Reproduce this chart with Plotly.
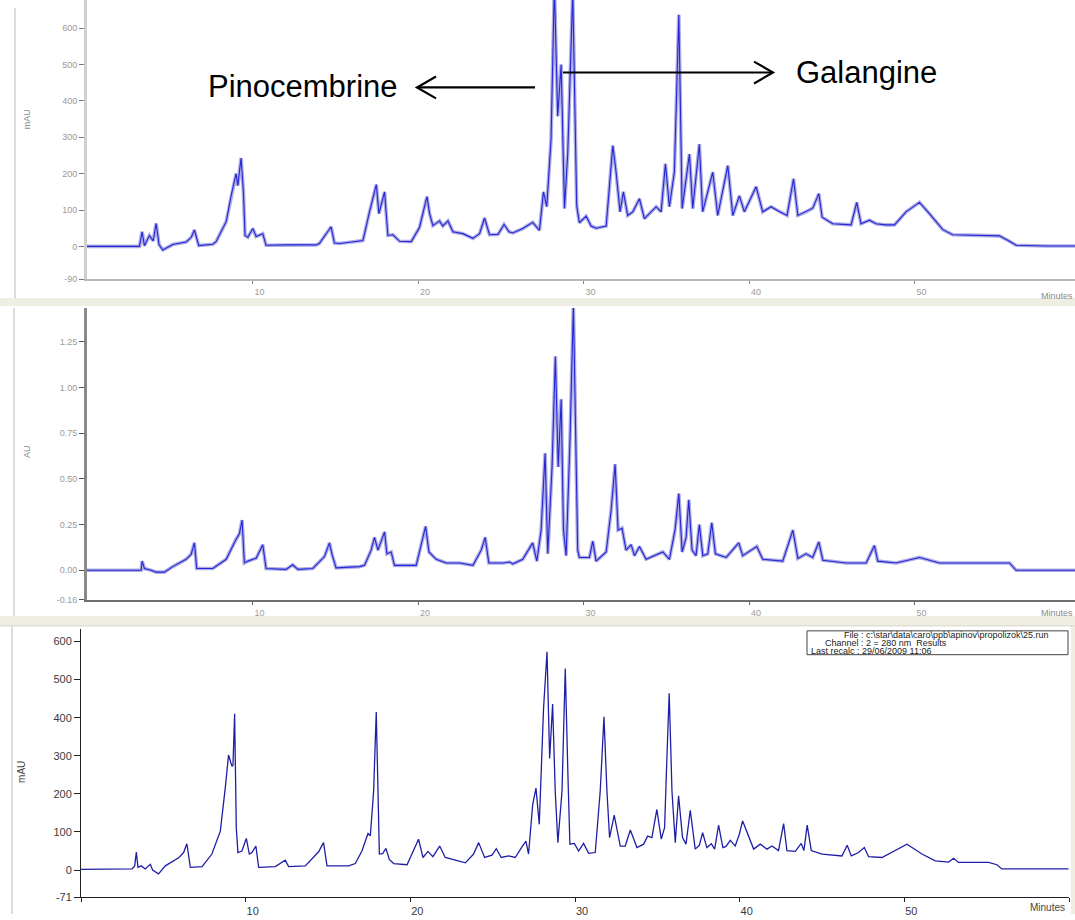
import plotly.graph_objects as go

# ---------------- data ----------------
# Panel 1 : chromatogram in mAU (upper trace)
t1 = [0, 3.17, 3.33, 3.47, 3.77, 4.0, 4.18, 4.35, 4.58, 5.18, 5.99, 6.3, 6.49, 6.75, 7.6, 7.8, 8.41, 8.71,
      9.01, 9.11, 9.31, 9.45, 9.55, 9.72, 10.02, 10.22, 10.62, 10.82, 12.0, 13.0, 13.84, 14.04, 14.55, 14.75,
      14.95, 15.26, 16.0, 16.67, 17.07, 17.48, 17.64, 17.78, 17.98, 18.18, 18.48, 18.89, 19.59, 20.09, 20.54,
      20.7, 20.9, 21.3, 21.5, 21.81, 22.11, 22.71, 23.32, 23.72, 24.02, 24.32, 24.83, 25.2, 25.5, 25.73, 26.33,
      26.93, 27.34, 27.58, 27.78, 28.04, 28.24, 28.44, 28.65, 28.85, 29.05, 29.35, 29.59, 29.75, 30.16, 30.46,
      30.76, 31.37, 31.77, 31.97, 32.21, 32.41, 32.67, 32.98, 33.38, 33.68, 34.39, 34.69, 34.95, 35.19, 35.49,
      35.76, 35.96, 36.4, 36.6, 37.0, 37.2, 37.81, 38.11, 38.72, 39.02, 39.42, 39.72, 40.43, 40.83, 41.33,
      41.84, 42.3, 42.69, 42.95, 43.45, 43.85, 44.22, 44.42, 45.06, 46.17, 46.51, 46.77, 47.28, 47.68, 48.28,
      48.79, 49.49, 50.3, 50.9, 51.71, 52.31, 53.92, 55.13, 55.74, 56.14, 57.95, 59.7]
v1 = [0, 0, 40, 2, 30, 15, 63, 5, -10, 5, 12, 25, 45, 2, 6, 13, 68, 140,
      200, 167, 243, 150, 30, 25, 49, 27, 35, 3, 4, 5, 4, 8, 40, 54,
      9, 8, 12, 16, 95, 170, 90, 117, 150, 30, 32, 14, 13, 52, 137,
      90, 57, 70, 56, 70, 40, 35, 22, 35, 78, 32, 33, 60, 40, 37, 49,
      66, 44, 150, 109, 295, 720, 358, 500, 104, 258, 700, 112, 65, 83, 56,
      50, 56, 277, 204, 95, 150, 85, 95, 131, 76, 109, 95, 227, 109, 204,
      637, 104, 254, 104, 281, 95, 204, 85, 222, 85, 139, 95, 164, 95, 109,
      95, 85, 186, 85, 95, 105, 145, 80, 62, 59, 121, 62, 72, 62, 59,
      59, 95, 121, 90, 46, 32, 31, 29, 14, 3, 1, 1]

# Panel 2 : chromatogram in AU (middle trace)
t2 = [0, 3.27, 3.33, 3.47, 3.87, 4.18, 4.68, 5.18, 5.99, 6.29, 6.49, 6.63, 7.6, 8.41, 9.01, 9.21, 9.37, 9.51,
      9.72, 10.22, 10.62, 10.82, 12.03, 12.43, 12.74, 13.64, 14.35, 14.65, 14.81, 15.05, 16.46, 16.77, 17.17,
      17.37, 17.58, 17.74, 17.98, 18.12, 18.38, 18.58, 19.89, 20.46, 20.66, 21.1, 21.7, 22.51, 23.32, 23.82,
      24.06, 24.28, 25.13, 25.53, 25.73, 26.33, 26.93, 27.18, 27.44, 27.68, 27.84, 28.1, 28.3, 28.47, 28.65,
      28.79, 28.95, 29.19, 29.39, 29.65, 29.75, 30.36, 30.56, 30.76, 31.37, 31.67, 31.91, 32.09, 32.33, 32.57,
      32.88, 33.08, 33.38, 33.78, 34.79, 35.19, 35.53, 35.76, 35.96, 36.2, 36.36, 36.56, 36.8, 37.0, 37.21,
      37.51, 37.75, 37.97, 38.62, 39.38, 39.62, 40.47, 40.83, 42.04, 42.65, 42.95, 43.45, 43.85, 44.22, 44.46,
      45.87, 47.08, 47.58, 47.78, 48.89, 50.3, 51.51, 53.92, 55.74, 56.14, 59.7]
v2 = [0, 0, 0.05, 0.01, 0.0, -0.01, -0.01, 0.02, 0.06, 0.087, 0.15, 0.01, 0.01, 0.06, 0.17, 0.2, 0.275, 0.04,
      0.05, 0.066, 0.14, 0.01, 0.005, 0.03, 0.005, 0.01, 0.075, 0.15, 0.085, 0.013, 0.02, 0.027, 0.11,
      0.18, 0.11, 0.155, 0.21, 0.09, 0.1, 0.027, 0.027, 0.24, 0.1, 0.06, 0.04, 0.04, 0.027, 0.11,
      0.18, 0.04, 0.04, 0.045, 0.035, 0.06, 0.15, 0.05, 0.22, 0.64, 0.09, 0.565, 1.17, 0.565, 0.935,
      0.22, 0.08, 0.73, 1.45, 0.11, 0.07, 0.07, 0.16, 0.05, 0.1, 0.33, 0.58, 0.22, 0.23, 0.11,
      0.14, 0.08, 0.13, 0.06, 0.1, 0.06, 0.22, 0.42, 0.1, 0.18, 0.385, 0.11, 0.08, 0.25, 0.08,
      0.09, 0.26, 0.09, 0.07, 0.15, 0.08, 0.13, 0.06, 0.05, 0.22, 0.065, 0.09, 0.07, 0.155, 0.055,
      0.04, 0.04, 0.135, 0.05, 0.04, 0.07, 0.04, 0.04, 0.04, 0.0, 0.0]

# Panel 3 : chromatogram in mAU, channel 2 = 280 nm (lower trace)
t3 = [0, 3.1, 3.26, 3.36, 3.46, 3.66, 3.9, 4.21, 4.35, 4.71, 5.12, 5.93, 6.23, 6.43, 6.64, 7.35, 7.95, 8.46,
      8.76, 8.96, 9.17, 9.23, 9.33, 9.43, 9.53, 9.77, 10.04, 10.22, 10.38, 10.62, 10.79, 11.8, 12.4, 12.61,
      13.62, 14.43, 14.73, 14.94, 16.25, 16.66, 17.06, 17.43, 17.57, 17.77, 17.93, 18.04, 18.12, 18.32, 18.52,
      18.72, 18.99, 19.8, 20.2, 20.5, 20.77, 21.07, 21.37, 21.78, 22.12, 22.63, 23.34, 23.84, 24.15, 24.51,
      24.96, 25.22, 25.52, 25.97, 26.37, 26.78, 27.02, 27.18, 27.43, 27.63, 27.83, 28.09, 28.3, 28.46, 28.64,
      28.8, 28.96, 29.21, 29.41, 29.57, 29.69, 29.96, 30.22, 30.52, 30.83, 31.23, 31.53, 31.76, 31.94, 32.1,
      32.38, 32.75, 33.05, 33.36, 33.76, 34.17, 34.41, 34.67, 34.97, 35.24, 35.44, 35.58, 35.72, 35.89, 36.09,
      36.29, 36.53, 36.74, 37.0, 37.3, 37.55, 37.75, 38.01, 38.28, 38.48, 38.72, 38.98, 39.17, 39.43, 39.73,
      39.98, 40.18, 40.44, 40.85, 41.25, 41.66, 41.96, 42.36, 42.67, 42.87, 43.38, 43.74, 43.9, 44.1, 44.35,
      45.0, 46.21, 46.53, 46.78, 47.22, 47.57, 47.83, 48.64, 49.45, 50.16, 51.07, 51.88, 52.69, 52.99, 53.29,
      55.12, 55.62, 55.92, 59.97]
v3 = [2, 3, 11, 47, 7, 11, 3, 15, 0, -10, 11, 32, 46, 69, 7, 9, 42, 102,
      215, 302, 272, 275, 410, 111, 46, 50, 83, 42, 46, 63, 7, 9, 26, 9,
      11, 48, 72, 11, 11, 17, 50, 96, 90, 206, 415, 241, 42, 43, 57,
      28, 17, 14, 50, 81, 33, 49, 35, 63, 33, 27, 19, 42, 72, 33,
      39, 56, 33, 37, 33, 61, 76, 42, 172, 215, 120, 424, 573, 293, 436,
      206, 72, 206, 529, 250, 68, 70, 50, 70, 44, 46, 206, 402, 206, 85,
      144, 63, 63, 105, 59, 68, 89, 85, 159, 81, 111, 293, 464, 206, 72,
      195, 85, 68, 157, 55, 65, 98, 59, 69, 55, 118, 59, 62, 78, 63,
      94, 129, 102, 55, 68, 55, 63, 51, 122, 51, 49, 70, 51, 118, 51,
      42, 37, 65, 37, 46, 59, 35, 33, 51, 68, 42, 24, 21, 31, 20,
      20, 14, 3, 3]

assert len(t1) == len(v1) and len(t2) == len(v2) and len(t3) == len(v3)

x_ticks = [10, 20, 30, 40, 50]
y1_ticks = [-90, 0, 100, 200, 300, 400, 500, 600]
y2_ticks = [-0.16, 0.0, 0.25, 0.50, 0.75, 1.00, 1.25]
y2_text = ["-0.16", "0.00", "0.25", "0.50", "0.75", "1.00", "1.25"]
y3_ticks = [-71, 0, 100, 200, 300, 400, 500, 600]

# ---------------- layout helpers (pixel -> paper) ----------------
W, H = 1075, 920
def X(px):
    return px / W
def Y(py):
    return 1 - py / H

fig = go.Figure()

halo = "rgba(105,105,205,0.55)"
core = "#2626d6"
for t, v, xa, ya in [(t1, v1, "x", "y"), (t2, v2, "x2", "y2")]:
    fig.add_trace(go.Scatter(x=t, y=v, xaxis=xa, yaxis=ya, mode="lines",
                             line=dict(color=halo, width=3.6), hoverinfo="skip", showlegend=False))
    fig.add_trace(go.Scatter(x=t, y=v, xaxis=xa, yaxis=ya, mode="lines",
                             line=dict(color=core, width=1.1), showlegend=False))
fig.add_trace(go.Scatter(x=t3, y=v3, xaxis="x3", yaxis="y3", mode="lines",
                         line=dict(color="#1f1fa6", width=1.3), showlegend=False))

top_font = dict(family="Liberation Sans, Arial, sans-serif", size=9, color="#9a9a9a")
bot_font = dict(family="Liberation Sans, Arial, sans-serif", size=11, color="#3a3a3a")

x_rng_top = [0, (W - 87) / 16.55]
common_x = dict(showgrid=False, zeroline=False, ticks="outside", tickvals=x_ticks,
                ticktext=[str(v) for v in x_ticks], ticklabelshift=7, fixedrange=True)

fig.update_layout(
    width=W, height=H, margin=dict(l=0, r=0, t=0, b=0),
    paper_bgcolor="white", plot_bgcolor="white",
    xaxis=dict(common_x, domain=[X(87), 1], range=x_rng_top, anchor="y",
               showline=True, linecolor="#b9b9b9", linewidth=2, ticklen=3, tickcolor="#888",
               tickfont=top_font),
    yaxis=dict(domain=[Y(281), Y(0)], range=[-90.2, 677.6], anchor="x", showgrid=False, zeroline=False,
               showline=True, linecolor="#cfcfcf", linewidth=3, ticks="outside", ticklen=5, tickcolor="#777",
               tickvals=y1_ticks, ticktext=[str(v) for v in y1_ticks], tickfont=top_font),
    xaxis2=dict(common_x, domain=[X(87), 1], range=x_rng_top, anchor="y2",
                showline=True, linecolor="#6f6f6f", linewidth=2, ticklen=3, tickcolor="#666",
                tickfont=top_font),
    yaxis2=dict(domain=[Y(604), Y(310)], range=[-0.163, 1.435], anchor="x2", showgrid=False, zeroline=False,
                showline=True, linecolor="#8a8a8a", linewidth=3, ticks="outside", ticklen=5, tickcolor="#555",
                tickvals=y2_ticks, ticktext=y2_text, tickfont=top_font),
    xaxis3=dict(domain=[X(81), X(1069)], range=[0, 60], anchor="y3", showgrid=False, zeroline=False,
                showline=True, linecolor="#222", linewidth=1, ticks="outside", ticklen=4, tickcolor="#222",
                tickvals=[0] + x_ticks + [60], ticktext=[""] + [str(v) for v in x_ticks] + [""],
                ticklabelshift=7, tickfont=bot_font, fixedrange=True),
    yaxis3=dict(domain=[Y(903), Y(633)], range=[-71, 633], anchor="x3", showgrid=False, zeroline=False,
                showline=True, linecolor="#222", linewidth=1, ticks="outside", ticklen=6, tickcolor="#222",
                tickvals=y3_ticks, ticktext=[str(v) for v in y3_ticks], tickfont=bot_font),
)

shapes = []
# window separators (beige bands) and left border lines
beige = "#efeee3"
shapes.append(dict(type="rect", xref="paper", yref="paper", x0=0, x1=1, y0=Y(308), y1=Y(300),
                   fillcolor=beige, line=dict(width=0), layer="below"))
shapes.append(dict(type="rect", xref="paper", yref="paper", x0=0, x1=1, y0=Y(630), y1=Y(620),
                   fillcolor=beige, line=dict(width=0), layer="below"))
shapes.append(dict(type="line", xref="paper", yref="paper", x0=X(0), x1=1, y0=Y(630), y1=Y(630),
                   line=dict(color="#d8d6c8", width=1)))
shapes.append(dict(type="rect", xref="paper", yref="paper", x0=X(1071), x1=1, y0=Y(920), y1=Y(630),
                   fillcolor=beige, line=dict(width=0), layer="below"))
for (py0, py1, pxl) in [(8, 300, 15), (310, 620, 14), (630, 920, 12)]:
    shapes.append(dict(type="line", xref="paper", yref="paper", x0=X(pxl), x1=X(pxl), y0=Y(py1), y1=Y(py0),
                       line=dict(color="#dcdcdc", width=2)))

# arrows for the annotations
arrow = dict(color="black", width=2.2)
def P(px, py):
    return f"{X(px):.5f},{Y(py):.5f}"
shapes.append(dict(type="line", xref="paper", yref="paper", x0=X(535), x1=X(417), y0=Y(88), y1=Y(88), line=arrow))
shapes.append(dict(type="path", xref="paper", yref="paper",
                   path=f"M {P(436, 77)} L {P(417, 88)} L {P(436, 99)}", line=arrow))
shapes.append(dict(type="line", xref="paper", yref="paper", x0=X(563), x1=X(773), y0=Y(73), y1=Y(73), line=arrow))
shapes.append(dict(type="path", xref="paper", yref="paper",
                   path=f"M {P(754, 62)} L {P(773, 73)} L {P(754, 84)}", line=arrow))
# info box of the lower chromatogram
shapes.append(dict(type="rect", xref="paper", yref="paper", x0=X(807), x1=X(1068), y0=Y(659), y1=Y(635),
                   line=dict(color="#444", width=1), fillcolor="white"))
fig.update_layout(shapes=shapes)

ann = []
big = dict(family="Liberation Sans, Arial, sans-serif", size=31, color="black")
ann.append(dict(text="Pinocembrine", xref="paper", yref="paper", x=X(206), y=Y(87),
                xanchor="left", yanchor="middle", showarrow=False, font=big))
ann.append(dict(text="Galangine", xref="paper", yref="paper", x=X(794), y=Y(73),
                xanchor="left", yanchor="middle", showarrow=False, font=big))
small_axis = dict(family="Liberation Sans, Arial, sans-serif", size=9, color="#8a8a8a")
ann.append(dict(text="mAU", xref="paper", yref="paper", x=X(27), y=Y(120), textangle=-90,
                xanchor="center", yanchor="middle", showarrow=False, font=small_axis))
ann.append(dict(text="AU", xref="paper", yref="paper", x=X(27), y=Y(455), textangle=-90,
                xanchor="center", yanchor="middle", showarrow=False, font=small_axis))
ann.append(dict(text="mAU", xref="paper", yref="paper", x=X(22), y=Y(777), textangle=-90,
                xanchor="center", yanchor="middle", showarrow=False,
                font=dict(family="Liberation Sans, Arial, sans-serif", size=10, color="#444")))
ann.append(dict(text="Minutes", xref="paper", yref="paper", x=X(1075), y=Y(298),
                xanchor="right", yanchor="middle", showarrow=False, font=small_axis))
ann.append(dict(text="Minutes", xref="paper", yref="paper", x=X(1075), y=Y(617),
                xanchor="right", yanchor="middle", showarrow=False, font=small_axis))
ann.append(dict(text="Minutes", xref="paper", yref="paper", x=X(1067), y=Y(913),
                xanchor="right", yanchor="middle", showarrow=False,
                font=dict(family="Liberation Sans, Arial, sans-serif", size=10, color="#444")))
info_font = dict(family="Liberation Sans, Arial, sans-serif", size=9, color="#222")
for txt, px, py in [("File : c:\\star\\data\\caro\\ppb\\apinov\\propolizok\\25.run", 842, 639),
                    ("Channel : 2 = 280 nm  Results", 823, 647),
                    ("Last recalc : 29/06/2009 11:06", 809, 655)]:
    ann.append(dict(text=txt, xref="paper", yref="paper", x=X(px), y=Y(py), xanchor="left",
                    yanchor="middle", showarrow=False, font=info_font))
fig.update_layout(annotations=ann)

fig.write_html("out.html", config={"displayModeBar": False},
               post_script="document.body.style.margin='0';document.body.style.overflow='hidden';")
